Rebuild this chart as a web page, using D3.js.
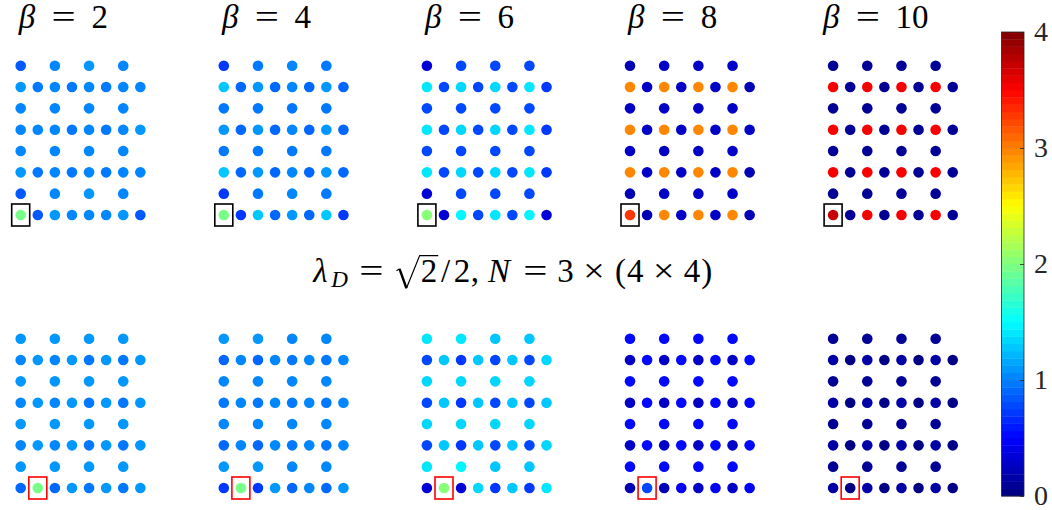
<!DOCTYPE html>
<html>
<head>
<meta charset="utf-8">
<script src="https://cdn.jsdelivr.net/npm/d3@7"></script>
<style>
  html, body { margin: 0; padding: 0; background: #fff; }
  svg { display: block; }
</style>
</head>
<body>
<svg id="chart" width="1052" height="510"></svg>
<script>
// Local density on a 3×(4×4) Lieb lattice, one panel per β.
// Each panel lists rows from top to bottom; rows with 4 values are the
// vertical-bond sites (columns 0,2,4,6), rows with 8 values hold corner and
// horizontal-bond sites (columns 0..7).

const betas = [2, 4, 6, 8, 10];
const colorTicks = [0, 1, 2, 3, 4];

// Defect on the corner site (column 0, row 0)
const cornerBeta2 = [
  [0.86, 1.00, 1.08, 1.00],
  [1.07, 0.98, 1.01, 0.99, 1.01, 0.99, 1.01, 1.05],
  [1.00, 1.00, 1.00, 1.00],
  [1.00, 1.06, 1.00, 0.99, 1.00, 0.99, 1.00, 1.08],
  [1.00, 1.00, 1.00, 1.00],
  [1.07, 0.98, 1.01, 0.99, 1.01, 0.99, 1.01, 1.05],
  [0.86, 1.00, 1.08, 1.00],
  [1.95, 0.86, 1.08, 1.00, 1.01, 1.00, 1.07, 0.86]
];
const cornerBeta4 = [
  [0.70, 0.95, 1.00, 0.95],
  [1.25, 0.90, 1.12, 0.93, 1.06, 0.93, 1.12, 0.88],
  [0.95, 0.95, 0.95, 0.95],
  [1.12, 0.93, 1.12, 0.93, 1.06, 0.93, 1.12, 0.92],
  [0.95, 0.95, 0.95, 0.95],
  [1.25, 0.90, 1.12, 0.93, 1.06, 0.93, 1.12, 0.88],
  [0.70, 0.95, 1.00, 0.95],
  [1.95, 0.70, 1.25, 0.93, 1.12, 0.93, 1.25, 0.70]
];
const cornerBeta6 = [
  [0.37, 0.77, 0.77, 0.77],
  [1.42, 0.75, 1.36, 0.75, 1.36, 0.75, 1.40, 0.70],
  [0.75, 0.75, 0.75, 0.75],
  [1.40, 0.75, 1.35, 0.75, 1.35, 0.75, 1.40, 0.72],
  [0.75, 0.75, 0.75, 0.75],
  [1.42, 0.75, 1.36, 0.75, 1.36, 0.75, 1.40, 0.70],
  [0.37, 0.77, 0.77, 0.77],
  [2.00, 0.37, 1.45, 0.75, 1.40, 0.75, 1.45, 0.37]
];
const cornerBeta8 = [
  [0.24, 0.25, 0.25, 0.25],
  [2.97, 0.25, 2.97, 0.25, 2.97, 0.25, 2.97, 0.24],
  [0.25, 0.25, 0.25, 0.25],
  [2.97, 0.25, 2.97, 0.25, 2.97, 0.25, 2.97, 0.25],
  [0.25, 0.25, 0.25, 0.25],
  [2.97, 0.25, 2.97, 0.25, 2.97, 0.25, 2.97, 0.24],
  [0.24, 0.25, 0.25, 0.25],
  [3.25, 0.24, 2.97, 0.25, 2.97, 0.25, 2.97, 0.24]
];
const cornerBeta10 = [
  [0.12, 0.12, 0.12, 0.12],
  [3.55, 0.12, 3.55, 0.12, 3.55, 0.12, 3.55, 0.12],
  [0.12, 0.12, 0.12, 0.12],
  [3.55, 0.12, 3.55, 0.12, 3.55, 0.12, 3.55, 0.12],
  [0.12, 0.12, 0.12, 0.12],
  [3.55, 0.12, 3.55, 0.12, 3.55, 0.12, 3.55, 0.12],
  [0.12, 0.12, 0.12, 0.12],
  [3.72, 0.12, 3.55, 0.12, 3.55, 0.12, 3.55, 0.12]
];

// Defect on the bond site (column 1, row 0)
const bondBeta2 = [
  [1.07, 1.07, 1.07, 1.07],
  [1.00, 1.07, 1.00, 1.07, 0.97, 1.07, 0.98, 1.07],
  [1.07, 1.07, 1.07, 1.07],
  [1.00, 1.07, 1.00, 1.07, 0.97, 1.07, 0.97, 1.07],
  [1.07, 1.07, 1.07, 1.07],
  [1.00, 1.07, 1.00, 1.07, 0.97, 1.07, 0.98, 1.07],
  [1.07, 1.07, 1.07, 1.07],
  [0.90, 1.95, 0.90, 1.07, 0.97, 1.07, 0.97, 1.07]
];
const bondBeta4 = [
  [1.12, 1.12, 1.00, 1.00],
  [0.90, 1.06, 0.93, 1.00, 0.96, 1.00, 0.96, 1.05],
  [1.00, 1.00, 1.00, 1.00],
  [0.96, 1.00, 0.96, 1.00, 0.96, 1.00, 0.96, 1.00],
  [1.00, 1.00, 1.00, 1.00],
  [0.90, 1.06, 0.93, 1.00, 0.96, 1.00, 0.96, 1.05],
  [1.12, 1.12, 1.00, 1.00],
  [0.70, 1.95, 0.70, 1.12, 0.93, 1.05, 0.93, 1.12]
];
const bondBeta6 = [
  [1.40, 1.42, 1.30, 1.30],
  [0.75, 1.28, 0.72, 1.30, 0.75, 1.28, 0.75, 1.37],
  [1.32, 1.32, 1.32, 1.32],
  [0.75, 1.27, 0.72, 1.30, 0.75, 1.27, 0.75, 1.30],
  [1.32, 1.32, 1.32, 1.32],
  [0.75, 1.28, 0.72, 1.30, 0.75, 1.28, 0.75, 1.35],
  [1.42, 1.45, 1.30, 1.30],
  [0.37, 2.00, 0.37, 1.35, 0.72, 1.30, 0.72, 1.38]
];
const bondBeta8 = [
  [0.50, 0.50, 0.50, 0.50],
  [0.30, 0.50, 0.30, 0.50, 0.28, 0.50, 0.30, 0.50],
  [0.50, 0.50, 0.50, 0.50],
  [0.30, 0.50, 0.30, 0.50, 0.28, 0.50, 0.30, 0.50],
  [0.50, 0.50, 0.50, 0.50],
  [0.30, 0.50, 0.30, 0.50, 0.28, 0.50, 0.30, 0.50],
  [0.50, 0.50, 0.50, 0.50],
  [0.22, 0.78, 0.22, 0.46, 0.28, 0.46, 0.28, 0.46]
];
const bondBeta10 = [
  [0.07, 0.07, 0.07, 0.07],
  [0.16, 0.05, 0.16, 0.05, 0.16, 0.05, 0.16, 0.05],
  [0.07, 0.07, 0.07, 0.07],
  [0.16, 0.05, 0.16, 0.05, 0.16, 0.05, 0.16, 0.05],
  [0.07, 0.07, 0.07, 0.07],
  [0.16, 0.05, 0.16, 0.05, 0.16, 0.05, 0.16, 0.05],
  [0.07, 0.07, 0.07, 0.07],
  [0.16, 0.05, 0.16, 0.05, 0.16, 0.05, 0.16, 0.05]
];

const cornerPanels = [cornerBeta2, cornerBeta4, cornerBeta6, cornerBeta8, cornerBeta10];
const bondPanels = [bondBeta2, bondBeta4, bondBeta6, bondBeta8, bondBeta10];
const defectSites = [{ col: 0, row: 0 }, { col: 1, row: 0 }];

// ---- colour map: MATLAB-style jet with 64 levels over [0, 4] ----
const NLEV = 64;
const clamp01 = v => Math.max(0, Math.min(1, v));
function jet(t) {
  const r = clamp01(1.5 - Math.abs(4 * t - 3));
  const g = clamp01(1.5 - Math.abs(4 * t - 2));
  const b = clamp01(1.5 - Math.abs(4 * t - 1));
  return d3.rgb(r * 255, g * 255, b * 255).formatHex();
}
const levelColors = d3.range(NLEV).map(i => jet((i + 0.5) / NLEV));
const colorScale = d3.scaleQuantize().domain([0, 4]).range(levelColors);

const svg = d3.select("#chart");
const serif = "'Liberation Serif', 'Times New Roman', serif";

// ---- panel geometry ----
const panelX = d3.scalePoint().domain(d3.range(5)).range([20.7, 833.1]);
const panelY = d3.scalePoint().domain([0, 1]).range([215, 488]);
const colStep = 17.09, rowStep = 21.33;

function rowsToSites(rows) {
  const sites = [];
  rows.forEach((vals, i) => {
    const row = 7 - i;
    vals.forEach((v, j) => {
      const col = vals.length === 8 ? j : 2 * j;
      sites.push({ col, row, value: v });
    });
  });
  return sites;
}

[cornerPanels, bondPanels].forEach((panels, pr) => {
  panels.forEach((rows, pc) => {
    const x0 = panelX(pc), yb = panelY(pr);
    const x = d3.scaleLinear().domain([0, 7]).range([x0, x0 + 7 * colStep]);
    const y = d3.scaleLinear().domain([0, 7]).range([yb, yb - 7 * rowStep]);
    const g = svg.append("g");
    g.selectAll("circle")
      .data(rowsToSites(rows))
      .join("circle")
      .attr("cx", d => x(d.col))
      .attr("cy", d => y(d.row))
      .attr("r", 5.3)
      .attr("fill", d => colorScale(d.value));
    const s = defectSites[pr];
    g.append("rect")
      .attr("x", x(s.col) - 9)
      .attr("y", y(s.row) - 11)
      .attr("width", 18)
      .attr("height", 22)
      .attr("fill", "none")
      .attr("stroke", pr === 0 ? "#000" : "#ff0000")
      .attr("stroke-width", 1.6);
  });
});

// ---- TeX-like layout: each glyph sits in a box of fixed advance (em) ----
function mathRuns(parent, items, cx, baseline, size) {
  const g = parent.append("g");
  let pos = 0;
  const placed = [];
  items.forEach(it => {
    if (typeof it === "number") { pos += it * size; return; }
    const adv = it.adv * size;
    if (it.t !== null) {
      const fs = size * (it.scale || 1);
      const anchor = it.anchor || "middle";
      const tx = anchor === "end" ? pos + adv : anchor === "start" ? pos : pos + adv / 2;
      const ty = baseline + (it.dy || 0) * size;
      g.append("text")
        .attr("transform", `translate(${tx},${ty}) scale(${it.sx || 1},1)`)
        .attr("text-anchor", anchor)
        .attr("font-family", serif)
        .attr("font-size", fs)
        .attr("font-style", it.italic ? "italic" : "normal")
        .attr("fill", "#000")
        .text(it.t);
    }
    placed.push({ x: pos, w: adv });
    pos += adv;
  });
  g.attr("transform", `translate(${cx - pos / 2},0)`);
  return { g, placed, width: pos };
}

// titles
betas.forEach((b, i) => {
  const cx = panelX(i) + 3.5 * colStep - 18;
  const digits = String(b).split("").map(c => ({ t: c, adv: 0.5 }));
  mathRuns(svg, [
    { t: "β", italic: true, adv: 0.6 },
    0.42,
    { t: "=", adv: 0.78, sx: 1.3 },
    0.45,
    ...digits
  ], cx, 28, 33);
});

// centre label: λ_D = √2/2, N = 3 × (4 × 4)
const LS = 33, LB = 282;
const lab = mathRuns(svg, [
  { t: "λ", italic: true, adv: 0.583 },
  { t: "D", italic: true, adv: 0.58, scale: 0.7, dy: 0.16 },
  0.278, { t: "=", adv: 0.778, sx: 1.3 }, 0.278,
  { t: null, adv: 0.833 },           // radical sign, drawn as a path below
  { t: "2", adv: 0.5 },
  { t: "/", adv: 0.5 },
  { t: "2", adv: 0.5 },
  { t: ",", adv: 0.278 },
  0.167,
  { t: "N", italic: true, adv: 0.86 },
  0.278, { t: "=", adv: 0.778, sx: 1.3 }, 0.278,
  { t: "3", adv: 0.5 },
  0.222, { t: "×", adv: 0.778, sx: 1.15 }, 0.222,
  { t: "(", adv: 0.389 },
  { t: "4", adv: 0.5 },
  0.222, { t: "×", adv: 0.778, sx: 1.15 }, 0.222,
  { t: "4", adv: 0.5 },
  { t: ")", adv: 0.389 }
], 512, LB, LS);
{
  const root = lab.placed[3], two = lab.placed[4];
  const rx = root.x, S = LS, B = LB;
  const topY = B - 0.80 * S;
  // thin hook and long rising stroke
  lab.g.append("path")
    .attr("d", `M${rx + 0.10 * S},${B - 0.34 * S} L${rx + 0.19 * S},${B - 0.40 * S}` +
               ` M${rx + 0.40 * S},${B + 0.19 * S} L${rx + 0.80 * S},${topY} L${two.x + two.w + 1},${topY}`)
    .attr("fill", "none")
    .attr("stroke", "#000")
    .attr("stroke-width", 1.2);
  // heavier descending stroke
  lab.g.append("path")
    .attr("d", `M${rx + 0.19 * S},${B - 0.40 * S} L${rx + 0.40 * S},${B + 0.19 * S}`)
    .attr("fill", "none")
    .attr("stroke", "#000")
    .attr("stroke-width", 2.4);
}

// ---- colour bar ----
const cbX = 1001.5, cbW = 22.5, cbTop = 32, cbBottom = 496;
const cbScale = d3.scaleLinear().domain([0, 4]).range([cbBottom, cbTop]);
const cb = svg.append("g");
cb.selectAll("rect.lev")
  .data(levelColors)
  .join("rect")
  .attr("class", "lev")
  .attr("x", cbX)
  .attr("y", (c, i) => cbScale((i + 1) * 4 / NLEV))
  .attr("width", cbW)
  .attr("height", (cbBottom - cbTop) / NLEV + 0.4)
  .attr("fill", c => c);
cb.append("rect")
  .attr("x", cbX).attr("y", cbTop)
  .attr("width", cbW).attr("height", cbBottom - cbTop)
  .attr("fill", "none").attr("stroke", "#262626").attr("stroke-width", 0.8);
const cbAxis = d3.axisRight(cbScale).tickValues(colorTicks).tickSize(-4).tickPadding(10)
  .tickFormat(d3.format("d"));
const axG = cb.append("g").attr("transform", `translate(${cbX + cbW},0)`).call(cbAxis);
axG.select(".domain").remove();
axG.selectAll(".tick line").attr("stroke", "#262626").attr("stroke-width", 0.8);
axG.selectAll(".tick text")
  .attr("font-family", serif)
  .attr("font-size", 28)
  .attr("fill", "#262626");
</script>
</body>
</html>
